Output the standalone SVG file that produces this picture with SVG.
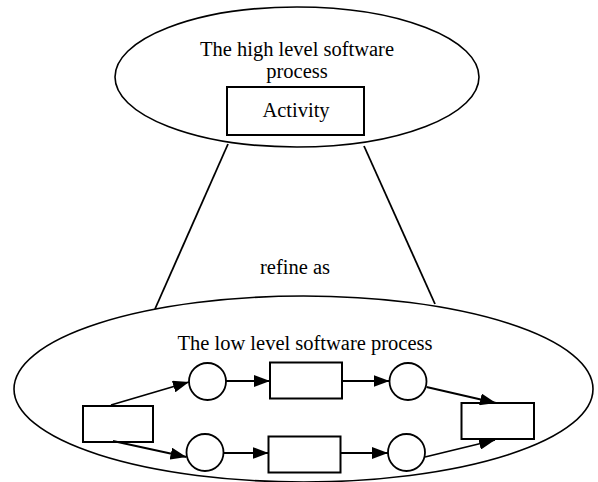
<svg xmlns="http://www.w3.org/2000/svg" width="598" height="482" viewBox="0 0 598 482">
<defs>
<marker id="arr" viewBox="0 0 16 12" refX="16" refY="6" markerWidth="16" markerHeight="12" markerUnits="userSpaceOnUse" orient="auto">
<path d="M0,0 L16,6 L0,12 Z" fill="#000"/>
</marker>
<style>
.ell{fill:none;stroke:#000;stroke-width:1.6}
.box{fill:#fff;stroke:#000;stroke-width:2}
.place{fill:#fff;stroke:#000;stroke-width:1.8}
.edge{fill:none;stroke:#000;stroke-width:1.8}
.arrow{fill:none;stroke:#000;stroke-width:1.8;marker-end:url(#arr)}
text{font-family:"Liberation Serif","Times New Roman",serif;font-size:20.5px;fill:#000;text-anchor:middle}
</style>
</defs>
<rect width="598" height="482" fill="#fff"/>
<g id="high-process">
<ellipse class="ell" cx="297" cy="77" rx="182" ry="70"/>
<text x="297" y="56">The high level software</text>
<text x="297" y="78">process</text>
</g>
<g id="activity">
<rect class="box" x="227" y="87" width="137" height="48"/>
<text x="296" y="117">Activity</text>
</g>
<g id="low-process">
<ellipse class="ell" cx="303.5" cy="389" rx="289.5" ry="93"/>
<text x="305" y="350">The low level software process</text>
</g>
<g id="refine-label">
<text x="295" y="274">refine as</text>
</g>
<g id="t-start"><rect class="box" x="83" y="406" width="70" height="36"/></g>
<g id="p-up-1"><circle class="place" cx="207.5" cy="381.5" r="18.5"/></g>
<g id="p-low-1"><circle class="place" cx="205" cy="452.5" r="18.5"/></g>
<g id="t-up"><rect class="box" x="270" y="362.5" width="72" height="36"/></g>
<g id="t-low"><rect class="box" x="268.5" y="436.5" width="72" height="36"/></g>
<g id="p-up-2"><circle class="place" cx="408" cy="381.5" r="18.5"/></g>
<g id="p-low-2"><circle class="place" cx="406.5" cy="452.5" r="18.5"/></g>
<g id="t-end"><rect class="box" x="461.5" y="403" width="72.5" height="36"/></g>
<g id="connectors">
<line class="edge" x1="228" y1="144" x2="155" y2="309"/>
<line class="edge" x1="364" y1="146" x2="435" y2="304"/>
<line class="arrow" x1="111" y1="405" x2="189" y2="382"/>
<line class="arrow" x1="113" y1="441" x2="186.5" y2="457"/>
<line class="arrow" x1="226" y1="381" x2="270" y2="381"/>
<line class="arrow" x1="223.5" y1="453" x2="268.5" y2="453"/>
<line class="arrow" x1="342" y1="381" x2="389.5" y2="381"/>
<line class="arrow" x1="340.5" y1="453" x2="388" y2="453"/>
<line class="arrow" x1="426.5" y1="387" x2="496" y2="403"/>
<line class="arrow" x1="425" y1="457" x2="495" y2="440"/>
</g>
</svg>
